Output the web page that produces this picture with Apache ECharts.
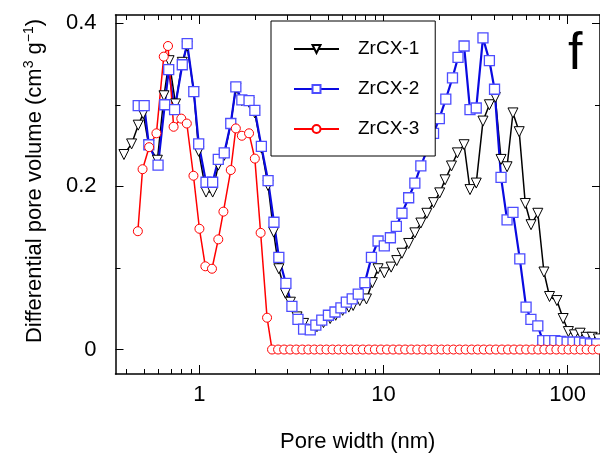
<!DOCTYPE html>
<html>
<head>
<meta charset="utf-8">
<script src="https://cdn.jsdelivr.net/npm/echarts@6/dist/echarts.min.js"></script>
<style>html,body{margin:0;padding:0;background:#fff}#c{width:600px;height:459px}</style>
</head>
<body>
<div id="c"></div>
<script>
// ---- data ----
const seriesNames = ['ZrCX-1', 'ZrCX-2', 'ZrCX-3'];
const x1 = [0.389,0.428,0.465,0.495,0.531,0.591,0.642,0.684,0.742,0.807,0.858,0.932,0.991,1.086,1.18,1.266,1.364,1.48,1.577,1.70,1.86,2.0,2.17,2.36,2.53,2.70,2.93,3.12,3.39,3.68,4.05,4.35,4.72,5.13,5.5,6.0,6.48,6.84,7.43,8.08,8.7,9.34,10.1,11.0,11.8,12.6,13.7,14.8,15.95,17.2,18.7,20.2,21.6,23.4,25.2,27.4,29.5,31.9,34.7,37.6,40.5,43.5,46.9,50.5,54.6,58.9,63.3,68.9,74.4,79.8,87.5,94.6,101,109,117,126,136,147];
const y1 = [0.239,0.252,0.275,0.289,0.250,0.232,0.311,0.354,0.301,0.352,0.372,0.316,0.243,0.193,0.193,0.226,0.238,0.277,0.320,0.305,0.303,0.290,0.247,0.201,0.144,0.099,0.069,0.058,0.040,0.032,0.024,0.028,0.033,0.038,0.042,0.048,0.052,0.054,0.060,0.062,0.082,0.099,0.094,0.101,0.109,0.118,0.130,0.143,0.155,0.167,0.180,0.192,0.208,0.225,0.241,0.251,0.196,0.204,0.280,0.300,0.309,0.233,0.224,0.290,0.267,0.179,0.153,0.167,0.095,0.065,0.060,0.038,0.022,0.018,0.020,0.015,0.015,0.013];
const x2 = [0.465,0.501,0.531,0.596,0.648,0.681,0.733,0.807,0.858,0.932,0.991,1.086,1.18,1.266,1.364,1.48,1.577,1.70,1.86,2.0,2.17,2.36,2.54,2.70,2.95,3.18,3.43,3.68,4.0,4.29,4.62,5.02,5.45,5.87,6.28,6.76,7.29,7.92,8.6,9.34,10.1,10.9,11.74,12.6,13.7,14.8,15.95,17.3,18.7,20.1,21.8,23.7,25.4,27.4,29.5,31.9,34.7,37.6,40.1,43.5,46.9,50.5,55,59.5,63.2,68.9,73.3,79,85.2,92,99.4,107,116,124,133,144];
const y2 = [0.299,0.299,0.251,0.226,0.300,0.343,0.294,0.349,0.375,0.316,0.252,0.205,0.205,0.233,0.241,0.277,0.322,0.306,0.305,0.293,0.249,0.207,0.156,0.113,0.081,0.053,0.037,0.025,0.024,0.030,0.036,0.042,0.046,0.051,0.058,0.062,0.068,0.082,0.113,0.133,0.127,0.137,0.151,0.167,0.186,0.204,0.225,0.245,0.265,0.283,0.307,0.333,0.358,0.372,0.294,0.296,0.382,0.354,0.319,0.211,0.159,0.168,0.111,0.052,0.037,0.029,0.011,0.011,0.011,0.010,0.009,0.009,0.009,0.008,0.007,0.007];
const x3 = [0.463,0.491,0.533,0.584,0.640,0.675,0.724,0.797,0.854,0.928,1.0,1.077,1.17,1.266,1.35,1.48,1.577,1.70,1.86,2.0,2.15,2.33,2.48,2.675,2.885,3.112,3.357,3.621,3.905,4.212,4.543,4.900,5.286,5.701,6.149,6.633,7.154,7.716,8.323,8.977,9.682,10.44,11.27,12.15,13.11,14.14,15.25,16.45,17.74,19.13,20.64,22.26,24.01,25.90,27.93,30.13,32.50,35.05,37.81,40.78,43.98,47.44,51.17,55.19,59.53,64.21,69.25,74.70,80.57,86.90,93.73,101.1,109.0,117.6,126.9,136.8,147.6];
const y3 = [0.145,0.221,0.248,0.265,0.359,0.372,0.273,0.283,0.277,0.213,0.148,0.102,0.099,0.135,0.169,0.220,0.271,0.262,0.265,0.234,0.143,0.039,0,0,0,0,0,0,0,0,0,0,0,0,0,0,0,0,0,0,0,0,0,0,0,0,0,0,0,0,0,0,0,0,0,0,0,0,0,0,0,0,0,0,0,0,0,0,0,0,0,0,0,0,0,0,0];
const xMajorTicks = [1, 10, 100];
const xMinorTicks = [0.4,0.5,0.6,0.7,0.8,0.9,2,3,4,5,6,7,8,9,20,30,40,50,60,70,80,90];
const yMajorTicks = [0, 0.2, 0.4];
const yMinorTicks = [0.1, 0.3];

const zip = (xs, ys) => xs.map((x, i) => [x, ys[i]]);
const FONT = 'Liberation Sans, Arial, sans-serif';

const X_MIN = 0.35, X_MAX = 150, Y_MIN = -0.03, Y_MAX = 0.41;
function xAx(pos, ticks, len, labels, showLine, name) {
  return {
    type: 'log', logBase: 10, min: X_MIN, max: X_MAX, position: pos,
    axisLine: {show: showLine, onZero: false, lineStyle: {color: '#000', width: 1.5}},
    axisTick: {show: true, inside: true, length: len, customValues: ticks, lineStyle: {color: '#000', width: 1}},
    axisLabel: labels ? {show: true, customValues: labels, margin: 10, fontSize: 22, fontFamily: FONT, color: '#000'} : {show: false},
    splitLine: {show: false}, minorTick: {show: false},
    name: name || '', nameLocation: 'middle', nameGap: 57,
    nameTextStyle: {fontSize: 22, fontFamily: FONT, color: '#000'}
  };
}
function yAx(pos, ticks, len, labels, showLine) {
  return {
    type: 'value', min: Y_MIN, max: Y_MAX, position: pos,
    axisLine: {show: showLine, onZero: false, lineStyle: {color: '#000', width: 1.5}},
    axisTick: {show: true, inside: true, length: len, customValues: ticks, lineStyle: {color: '#000', width: 1}},
    axisLabel: labels ? {show: true, customValues: labels, margin: 19, fontSize: 22, fontFamily: FONT, color: '#000'} : {show: false},
    splitLine: {show: false}
  };
}

const chart = echarts.init(document.getElementById('c'), null, {renderer: 'canvas'});
chart.setOption({
  animation: false,
  backgroundColor: '#fff',
  grid: {left: 115.5, top: 15, width: 488.2, height: 359, containLabel: false},
  xAxis: [
    xAx('bottom', xMajorTicks, 9, xMajorTicks, true, 'Pore width (nm)'),
    xAx('bottom', xMinorTicks, 5, null, false),
    xAx('top', xMajorTicks, 9, null, true),
    xAx('top', xMinorTicks, 5, null, false)
  ],
  yAxis: [
    yAx('left', yMajorTicks, 8, yMajorTicks, true),
    yAx('left', yMinorTicks, 5, null, false),
    yAx('right', yMajorTicks, 8, null, true),
    yAx('right', yMinorTicks, 5, null, false)
  ],
  legend: {
    orient: 'vertical', left: 271, top: 21,
    padding: [18, 16, 17, 22], itemWidth: 45, itemHeight: 10, itemGap: 20,
    borderColor: '#000', borderWidth: 1, backgroundColor: '#fff',
    textStyle: {fontSize: 19, fontFamily: FONT, color: '#000', padding: [0, 0, 0, 14], lineHeight: 20},
    data: seriesNames
  },
  series: [
    {
      name: seriesNames[0], type: 'line', data: zip(x1, y1),
      symbol: 'triangle', symbolRotate: 180, symbolSize: 10, showAllSymbol: true,
      lineStyle: {color: '#000', width: 1.5},
      itemStyle: {color: '#fff', borderColor: '#000', borderWidth: 1}
    },
    {
      name: seriesNames[1], type: 'line', data: zip(x2, y2),
      symbol: 'rect', symbolSize: 10, showAllSymbol: true,
      lineStyle: {color: '#0a0ae0', width: 2.2},
      itemStyle: {color: '#fff', borderColor: '#4d4dff', borderWidth: 1.3}
    },
    {
      name: seriesNames[2], type: 'line', data: zip(x3, y3),
      symbol: 'circle', symbolSize: 9, showAllSymbol: true,
      lineStyle: {color: '#ff0000', width: 1.5},
      itemStyle: {color: '#fff', borderColor: '#ff0000', borderWidth: 1}
    }
  ],
  graphic: [
    {
      type: 'text', left: 568, top: 29, silent: true,
      style: {text: 'f', fontSize: 52, fontFamily: FONT, fill: '#000'}
    },
    {
      type: 'text', x: 35, y: 181, rotation: Math.PI / 2, silent: true,
      style: {
        text: 'Differential pore volume (cm{sup|3} g{sup|\u22121})',
        fontSize: 22, fontFamily: FONT, fill: '#000', align: 'center', verticalAlign: 'middle',
        rich: {sup: {fontSize: 14, fontFamily: FONT, fill: '#000', padding: [0, 0, 12, 0]}}
      }
    }
  ]
});
</script>
</body>
</html>
